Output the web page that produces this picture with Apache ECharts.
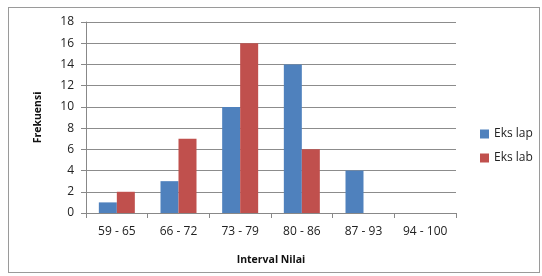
<!DOCTYPE html>
<html>
<head>
<meta charset="utf-8">
<script src="https://cdn.jsdelivr.net/npm/echarts@6/dist/echarts.min.js"></script>
<style>
html, body { margin: 0; padding: 0; background: #fff; }
#wrap { position: absolute; left: 8px; top: 7px; width: 532px; height: 266px; border: 1px solid #9a9a9a; box-sizing: border-box; }
#chart { position: absolute; left: 0; top: 0; width: 542px; height: 276px; }
</style>
</head>
<body>
<div id="wrap"></div>
<div id="chart"></div>
<script>
// kategori interval nilai
var categories = ['59 - 65', '66 - 72', '73 - 79', '80 - 86', '87 - 93', '94 - 100'];
var eksLap = [1, 3, 10, 14, 4, 0];
var eksLab = [2, 7, 16, 6, 0, 0];
var yTicks = [0, 18, 2];

var chart = echarts.init(document.getElementById('chart'));

var font = 'Open Sans, Liberation Sans, sans-serif';

var option = {
    animation: false,
    grid: {
        left: 86,
        right: 86,
        top: 22,
        bottom: 63
    },
    legend: {
        orient: 'vertical',
        left: 475,
        top: 123,
        itemWidth: 9,
        itemHeight: 9,
        itemGap: 12,
        icon: 'rect',
        textStyle: { fontFamily: font, fontSize: 12, color: '#222' },
        data: ['Eks lap', 'Eks lab']
    },
    xAxis: {
        type: 'category',
        data: categories,
        name: 'Interval Nilai',
        nameLocation: 'middle',
        nameGap: 42,
        nameTextStyle: { fontFamily: font, fontSize: 10.5, fontWeight: 'bold', color: '#111' },
        axisLine: { lineStyle: { color: '#888' } },
        axisTick: { show: true, length: 5, lineStyle: { color: '#888' } },
        axisLabel: { fontFamily: font, fontSize: 12, color: '#222', margin: 13 }
    },
    yAxis: {
        type: 'value',
        min: yTicks[0],
        max: yTicks[1],
        interval: yTicks[2],
        name: 'Frekuensi',
        nameLocation: 'middle',
        nameGap: 42,
        nameRotate: 90,
        nameTextStyle: { fontFamily: font, fontSize: 10.5, fontWeight: 'bold', color: '#111' },
        axisLine: { show: true, lineStyle: { color: '#888' } },
        axisTick: { show: true, length: 5, lineStyle: { color: '#888' } },
        splitLine: { lineStyle: { color: '#8c8c8c' } },
        axisLabel: { fontFamily: font, fontSize: 12, color: '#222', margin: 12 }
    },
    series: [
        {
            name: 'Eks lap',
            type: 'bar',
            data: eksLap,
            barWidth: 18,
            barGap: '0%',
            itemStyle: { color: '#4F81BD' }
        },
        {
            name: 'Eks lab',
            type: 'bar',
            data: eksLab,
            barWidth: 18,
            barGap: '0%',
            itemStyle: { color: '#C0504D' }
        }
    ]
};

chart.setOption(option);
</script>
</body>
</html>
